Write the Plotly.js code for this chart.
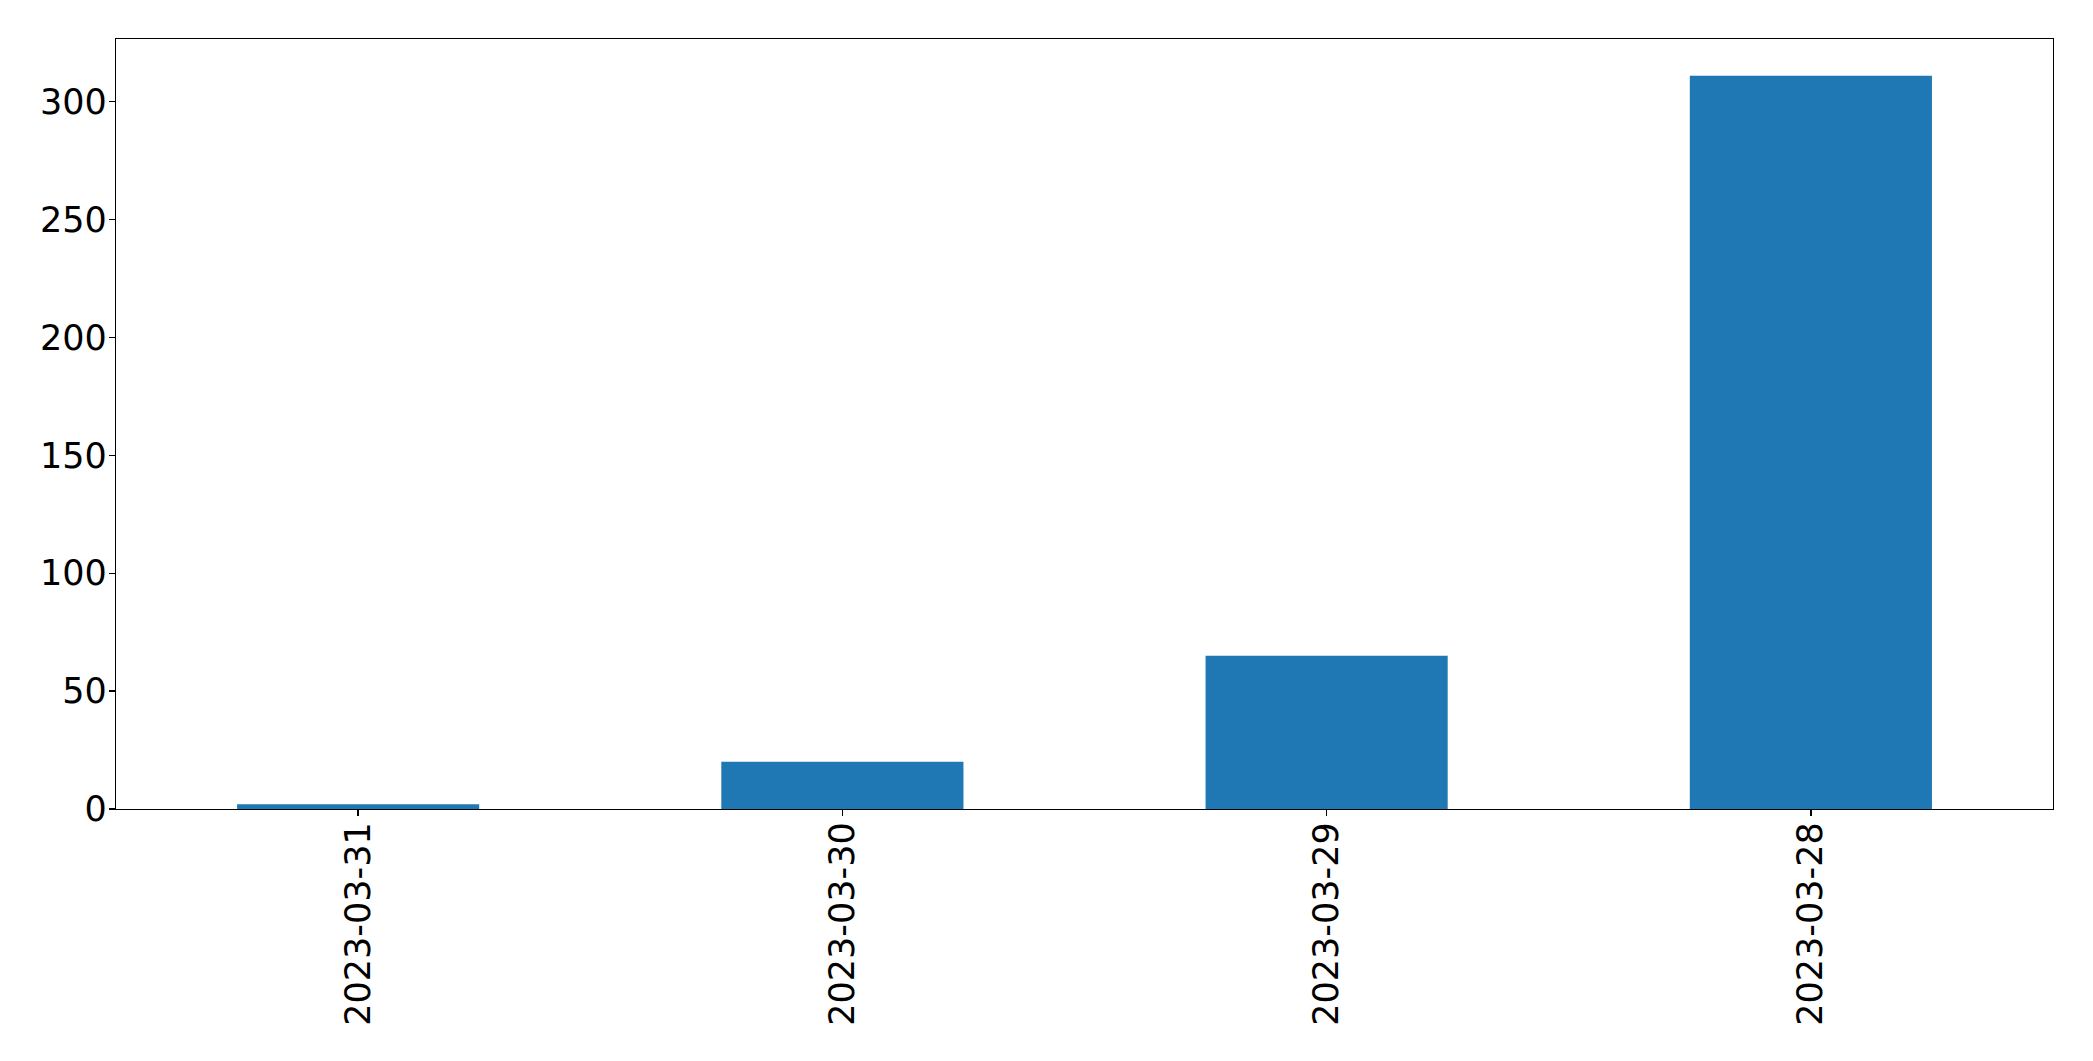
<!DOCTYPE html>
<html>
<head>
<meta charset="utf-8">
<script src="https://cdn.plot.ly/plotly-3.0.1.min.js"></script>
<style>html,body{margin:0;padding:0;background:#fff;}#chart{width:2093px;height:1061px;}</style>
</head>
<body>
<div id="chart"></div>
<script>
const categories = ["2023-03-31", "2023-03-30", "2023-03-29", "2023-03-28"];
const values = [2, 20, 65, 311];
const yTicks = [0, 50, 100, 150, 200, 250, 300];

const trace = {
  type: "bar",
  x: categories,
  y: values,
  width: 0.5,
  marker: {color: "#1f77b4", line: {width: 0}},
  hoverinfo: "x+y"
};

const axisCommon = {
  showline: true,
  linecolor: "#000",
  linewidth: 1.3,
  mirror: true,
  ticks: "outside",
  ticklen: 6,
  tickwidth: 1.3,
  tickcolor: "#000",
  showgrid: false,
  zeroline: false,
  tickfont: {family: "DejaVu Sans", size: 35, color: "#000"}
};

const layout = {
  width: 2093,
  height: 1061,
  margin: {l: 116, r: 40, t: 39, b: 252, pad: 0},
  paper_bgcolor: "#fff",
  plot_bgcolor: "#fff",
  showlegend: false,
  xaxis: Object.assign({}, axisCommon, {
    type: "category",
    range: [-0.5, 3.5],
    tickangle: -90,
    ticklabelstandoff: -8
  }),
  yaxis: Object.assign({}, axisCommon, {
    range: [0, 326.55],
    tickmode: "array",
    tickvals: yTicks,
    ticktext: yTicks.map(String),
    ticklabelstandoff: -5
  })
};

Plotly.newPlot("chart", [trace], layout, {displayModeBar: false, staticPlot: true});
</script>
</body>
</html>
